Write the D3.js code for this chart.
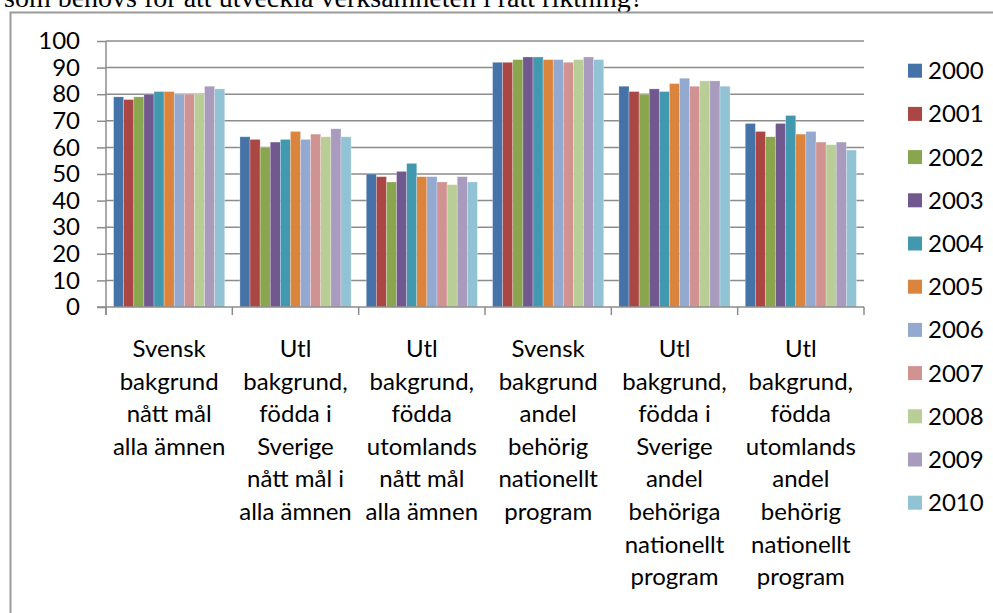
<!DOCTYPE html>
<html>
<head>
<meta charset="utf-8">
<script src="https://cdn.jsdelivr.net/npm/d3@7"></script>
<style>
  body { margin: 0; background: #fff; }
  svg { display: block; }
</style>
</head>
<body>
<div id="chart"></div>
<script>
// Years (series)
const years = ['2000', '2001', '2002', '2003', '2004', '2005', '2006', '2007', '2008', '2009', '2010'];

// Category labels, one array of lines per category
const categoryLines = [
    ['Svensk', 'bakgrund', 'nått mål', 'alla ämnen'],
    ['Utl', 'bakgrund,', 'födda i', 'Sverige', 'nått mål i', 'alla ämnen'],
    ['Utl', 'bakgrund,', 'födda', 'utomlands', 'nått mål', 'alla ämnen'],
    ['Svensk', 'bakgrund', 'andel', 'behörig', 'nationellt', 'program'],
    ['Utl', 'bakgrund,', 'födda i', 'Sverige', 'andel', 'behöriga', 'nationellt', 'program'],
    ['Utl', 'bakgrund,', 'födda', 'utomlands', 'andel', 'behörig', 'nationellt', 'program']
];

// Values per category, 2000..2010
const svenskNattMal = [79, 78, 79, 80, 81, 81, 80, 80, 80, 83, 82];
const utlSverigeNattMal = [64, 63, 60, 62, 63, 66, 63, 65, 64, 67, 64];
const utlUtomlandsNattMal = [50, 49, 47, 51, 54, 49, 49, 47, 46, 49, 47];
const svenskBehorig = [92, 92, 93, 94, 94, 93, 93, 92, 93, 94, 93];
const utlSverigeBehorig = [83, 81, 80, 82, 81, 84, 86, 83, 85, 85, 83];
const utlUtomlandsBehorig = [69, 66, 64, 69, 72, 65, 66, 62, 61, 62, 59];

const yTicks = [0, 10, 20, 30, 40, 50, 60, 70, 80, 90, 100];

const colors = ['#4572A7', '#AA4643', '#89A54E', '#71588F', '#4198AF', '#DB843D',
    '#93A9CF', '#D19392', '#B9CD96', '#A99BBD', '#92C3D4'];

const valueSets = [svenskNattMal, utlSverigeNattMal, utlUtomlandsNattMal,
    svenskBehorig, utlSverigeBehorig, utlUtomlandsBehorig];

const data = categoryLines.map((lines, i) => ({
    key: 'c' + i,
    lines: lines,
    values: years.map((yr, j) => ({ year: yr, value: valueSets[i][j] }))
}));

const width = 993, height = 613;
const plotLeft = 106, plotRight = 864, plotTop = 41, plotBottom = 307;
const gridColor = '#8c8c8c';
const font = 'Lato, Carlito, Calibri, sans-serif';
const fontSize = '24px';

const svg = d3.select('#chart')
    .append('svg')
    .attr('width', width)
    .attr('height', height);

svg.append('rect')
    .attr('width', width)
    .attr('height', height)
    .attr('fill', '#fff');

// Document text above the chart (cut off at the top, as in the page it came from)
svg.append('text')
    .attr('x', 4)
    .attr('y', 7)
    .attr('font-family', '"Liberation Serif", "Times New Roman", serif')
    .attr('font-size', '28px')
    .attr('fill', '#000')
    .text('som behövs för att utveckla verksamheten i rätt riktning?');

// Chart frame
svg.append('path')
    .attr('d', `M10.5,${height + 5} V12.5 H${width + 5}`)
    .attr('fill', 'none')
    .attr('stroke', '#9a9a9a')
    .attr('stroke-width', 2);

// Scales
const y = d3.scaleLinear().domain([0, 100]).range([plotBottom, plotTop]);
const x0 = d3.scaleBand().domain(data.map(d => d.key)).range([plotLeft, plotRight]).padding(0);
const x1 = d3.scaleBand().domain(years).range([0, x0.bandwidth()])
    .paddingInner(0).paddingOuter(0.75);

// Gridlines
svg.append('g')
    .selectAll('line')
    .data(yTicks.filter(t => t > 0))
    .enter()
    .append('line')
    .attr('x1', plotLeft)
    .attr('x2', plotRight)
    .attr('y1', d => y(d))
    .attr('y2', d => y(d))
    .attr('stroke', gridColor)
    .attr('stroke-width', 1.5);

// Bars
const groups = svg.append('g')
    .selectAll('g')
    .data(data)
    .enter()
    .append('g')
    .attr('transform', d => `translate(${x0(d.key)},0)`);

groups.selectAll('rect')
    .data(d => d.values)
    .enter()
    .append('rect')
    .attr('x', d => x1(d.year))
    .attr('y', d => y(d.value))
    .attr('width', x1.bandwidth())
    .attr('height', d => y(0) - y(d.value))
    .attr('fill', (d, i) => colors[i])
    .attr('stroke', '#ffffff')
    .attr('stroke-opacity', 0.45)
    .attr('stroke-width', 0.6);

// Y axis
const yAxis = d3.axisLeft(y)
    .tickValues(yTicks)
    .tickSize(9)
    .tickPadding(17)
    .tickSizeOuter(0);

const yAxisGroup = svg.append('g')
    .attr('transform', `translate(${plotLeft},0)`)
    .call(yAxis);

yAxisGroup.select('.domain').remove();
yAxisGroup.selectAll('line').attr('stroke', gridColor).attr('stroke-width', 1.5);
yAxisGroup.selectAll('text')
    .attr('font-family', font)
    .attr('font-size', fontSize)
    .attr('fill', '#000');

// Vertical axis line
svg.append('line')
    .attr('x1', plotLeft).attr('x2', plotLeft)
    .attr('y1', plotTop).attr('y2', plotBottom + 8)
    .attr('stroke', gridColor)
    .attr('stroke-width', 1.5);

// X axis line
svg.append('line')
    .attr('x1', plotLeft - 9).attr('x2', plotRight)
    .attr('y1', plotBottom).attr('y2', plotBottom)
    .attr('stroke', gridColor)
    .attr('stroke-width', 1.5);

// Category boundary ticks
const boundaries = data.map(d => x0(d.key)).concat([x0(data[data.length - 1].key) + x0.bandwidth()]);
svg.append('g')
    .selectAll('line')
    .data(boundaries)
    .enter()
    .append('line')
    .attr('x1', d => d)
    .attr('x2', d => d)
    .attr('y1', plotBottom)
    .attr('y2', plotBottom + 8)
    .attr('stroke', gridColor)
    .attr('stroke-width', 1.5);

// Category labels
const labels = svg.append('g')
    .selectAll('text')
    .data(data)
    .enter()
    .append('text')
    .attr('text-anchor', 'middle')
    .attr('font-family', font)
    .attr('font-size', fontSize)
    .attr('fill', '#000');

labels.selectAll('tspan')
    .data(d => d.lines.map(l => ({ key: d.key, line: l })))
    .enter()
    .append('tspan')
    .attr('x', d => x0(d.key) + x0.bandwidth() / 2)
    .attr('y', (d, i) => 357 + i * 32.6)
    .text(d => d.line);

// Legend
const legend = svg.append('g')
    .selectAll('g')
    .data(years)
    .enter()
    .append('g')
    .attr('transform', (d, i) => `translate(908, ${70.7 + i * 43.2})`);

legend.append('rect')
    .attr('x', 0)
    .attr('y', -7)
    .attr('width', 14)
    .attr('height', 14)
    .attr('fill', (d, i) => colors[i]);

legend.append('text')
    .attr('x', 20)
    .attr('dy', '0.35em')
    .attr('font-family', font)
    .attr('font-size', fontSize)
    .attr('fill', '#000')
    .text(d => d);
</script>
</body>
</html>
